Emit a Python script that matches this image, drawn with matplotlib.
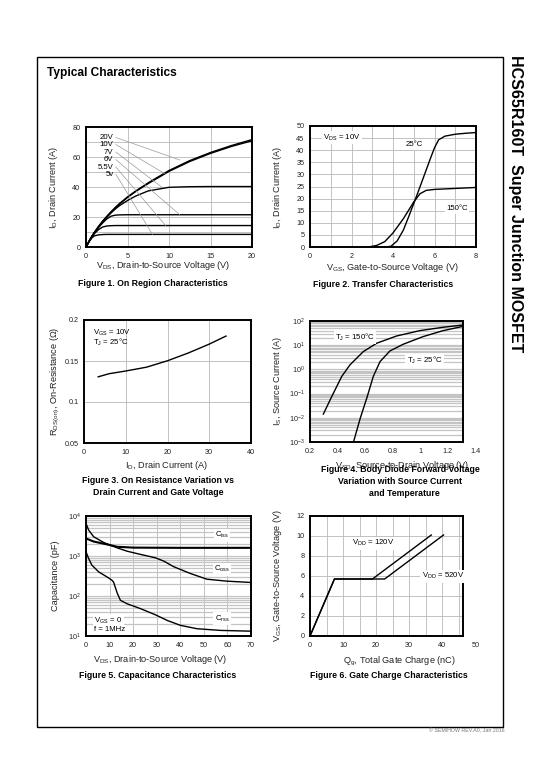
import matplotlib
matplotlib.use("Agg")
import matplotlib.pyplot as plt
from matplotlib.patches import Rectangle
from matplotlib.ticker import LogLocator, NullFormatter

plt.rcParams['font.family'] = ['Liberation Sans', 'DejaVu Sans']
plt.rcParams['mathtext.fontset'] = 'custom'
plt.rcParams['mathtext.rm'] = 'Liberation Sans'
plt.rcParams['mathtext.it'] = 'Liberation Sans'
plt.rcParams['mathtext.default'] = 'regular'

# ---------------- data ----------------
# Figure 1: On region characteristics
vds1 = [0, 0.25, 0.5, 0.75, 1, 1.5, 2, 2.5, 3, 3.5, 4, 5, 6, 7.5, 10, 12.5, 15, 17.5, 20]
id_20v = [0, 2.6, 5.2, 7.5, 9.6, 13.6, 17.2, 20.4, 23.4, 26.2, 28.8, 33.4, 37.4, 42.8, 51.0, 57.6, 63.0, 67.6, 71.6]
id_10v = [0, 2.6, 5.2, 7.5, 9.6, 13.5, 17.0, 20.2, 23.1, 25.9, 28.4, 33.0, 37.0, 42.3, 50.4, 57.0, 62.4, 67.0, 70.8]
id_7v = [0, 2.6, 5.2, 7.5, 9.6, 13.4, 16.8, 19.8, 22.6, 25.2, 27.4, 31.0, 34.0, 37.4, 39.8, 40.2, 40.3, 40.3, 40.3]
id_6v = [0, 2.6, 5.1, 7.3, 9.3, 12.9, 16.0, 18.7, 20.5, 21.2, 21.4, 21.5, 21.5, 21.5, 21.5, 21.5, 21.5, 21.5, 21.5]
id_55v = [0, 2.5, 4.9, 7.0, 8.8, 11.6, 13.3, 14.0, 14.2, 14.3, 14.3, 14.3, 14.3, 14.3, 14.3, 14.3, 14.3, 14.3, 14.3]
id_5v = [0, 2.4, 4.5, 6.3, 7.4, 8.1, 8.3, 8.4, 8.4, 8.4, 8.4, 8.4, 8.4, 8.4, 8.4, 8.4, 8.4, 8.4, 8.4]
fig1_labels = ["20V", "10V", "7V", "6V", "5.5V", "5v"]
fig1_label_y = [73, 68.3, 63.3, 58.3, 53.3, 48.5]
fig1_leader_end_x = [11.3, 9.6, 9.1, 11.3, 9.6, 8.0]
fig1_leader_end_y = [58.0, 48.5, 40.0, 21.5, 14.3, 8.4]

# Figure 2: Transfer characteristics
vgs_25 = [3.6, 3.9, 4.2, 4.5, 4.8, 5.0, 5.2, 5.5, 5.8, 6.0, 6.2, 6.5, 7.0, 7.5, 8.0]
id_25 = [0, 0.3, 2.5, 7.0, 13.5, 18.0, 22.5, 29.5, 36.5, 41.0, 44.3, 45.8, 46.6, 47.0, 47.3]
vgs_150 = [2.8, 3.2, 3.6, 4.0, 4.5, 5.0, 5.3, 5.6, 6.0, 7.0, 8.0]
id_150 = [0, 0.6, 2.2, 5.8, 11.7, 18.6, 22.0, 23.4, 23.8, 24.2, 24.6]

# Figure 3: On resistance vs drain current
id3 = [3.4, 6, 10, 15, 20, 25, 30, 34]
rds_on = [0.1307, 0.1345, 0.1378, 0.1425, 0.1503, 0.1598, 0.1706, 0.1804]

# Figure 4: Body diode forward voltage
vsd_150 = [0.297, 0.357, 0.43, 0.49, 0.586, 0.683, 0.828, 0.997, 1.166, 1.304]
is_150 = [0.0143, 0.074, 0.51, 1.54, 5.4, 12, 24, 40, 55, 68]
vsd_25 = [0.517, 0.565, 0.614, 0.659, 0.708, 0.78, 0.877, 1.02, 1.166, 1.304]
is_25 = [0.00107, 0.0098, 0.071, 0.51, 2.1, 5.8, 11, 22.6, 40, 59]

# Figure 5: Capacitance characteristics
ciss_v = [0, 3.25, 8.9, 13.2, 20, 30, 40, 50, 60, 70]
ciss = [2750, 2300, 1950, 1700, 1620, 1610, 1600, 1600, 1600, 1600]
coss_v = [0, 1.1, 3.25, 7.5, 13.2, 17.4, 23, 29.4, 33, 37.2, 44.3, 51.3, 59.8, 70]
coss = [6550, 4470, 3030, 2180, 1600, 1320, 1100, 904, 745, 540, 365, 263, 235, 218]
crss_v = [0, 1.1, 2.5, 5.4, 8.9, 11, 11.7, 13.2, 14.6, 17.4, 23, 29.4, 34.4, 40, 47.1, 57, 70]
crss = [1275, 870, 590, 400, 300, 248, 222, 120, 78, 64, 48.6, 34, 24.6, 18.5, 15.2, 13.8, 13.2]

# Figure 6: Gate charge
qg_120 = [0, 7.4, 18.9, 36.7]
vgs_120 = [0, 5.7, 5.7, 10.1]
qg_520 = [0, 7.4, 22.6, 40.4]
vgs_520 = [0, 5.7, 5.7, 10.1]

# ---------------- layout ----------------
W, H = 540, 780
fig = plt.figure(figsize=(W / 100, H / 100), dpi=100)
fig.patch.set_facecolor('white')

def fx(x):
    return x / W

def fy(y):
    return 1 - y / H

def add_ax(l, t, r, b):
    return fig.add_axes([fx(l), fy(b), (r - l) / W, (b - t) / H])

TICK_FS = 5.2
LAB_FS = 6.6
CAP_FS = 6.3
ANN_FS = 5.6
GRID_C = '#b8b8b8'
LINE_KW = dict(color='black', lw=1.0)
BOX = dict(facecolor='white', edgecolor='none', pad=1.0)

def style(ax):
    for s in ax.spines.values():
        s.set_linewidth(1.4)
        s.set_color('black')
    ax.tick_params(length=0, labelsize=TICK_FS, pad=4, colors='#222222')
    ax.set_axisbelow(True)

def hgrid(ax, vals):
    for v in vals:
        ax.axhline(v, color=GRID_C, lw=0.6, zorder=0)

def vgrid(ax, vals):
    for v in vals:
        ax.axvline(v, color=GRID_C, lw=0.6, zorder=0)

def txt(x, y, s, **kw):
    fig.text(fx(x), fy(y), s, ha='center', va='center', **kw)

# page frame
fig.add_artist(Rectangle((fx(37), fy(727)), (503 - 37) / W, (727 - 57) / H,
                         transform=fig.transFigure, fill=False, lw=1.0, ec='black'))
fig.text(fx(47), fy(73), "Typical Characteristics", fontsize=8.6, fontweight='bold',
         ha='left', va='center')
fig.text(fx(516), fy(55), "HCS65R160T  Super Junction MOSFET", fontsize=11.5,
         fontweight='bold', rotation=-90, ha='center', va='top')
fig.text(fx(505), fy(731), "\u00a9 SEMIHOW REV.A0, Jan 2016", fontsize=3.8,
         color='#777777', ha='right', va='center')

# ---- Figure 1 ----
ax1 = add_ax(86, 127, 252, 247)
style(ax1)
ax1.set_xlim(0, 20)
ax1.set_ylim(0, 80)
ax1.set_xticks([0, 5, 10, 15, 20])
ax1.set_yticks([0, 20, 40, 60, 80])
hgrid(ax1, [10, 20, 30, 40, 50, 60, 70])
vgrid(ax1, [5, 10, 15])
for curve in [id_20v, id_10v, id_7v, id_6v, id_55v, id_5v]:
    ax1.plot(vds1, curve, **LINE_KW)
for lab, ly, ex, ey in zip(fig1_labels, fig1_label_y, fig1_leader_end_x, fig1_leader_end_y):
    ax1.text(3.3, ly, lab, fontsize=ANN_FS, ha='right', va='center')
    ax1.plot([3.6, ex], [ly, ey], color='#9a9a9a', lw=0.5)
txt(53, 187, "I$_D$, Drain Current (A)", fontsize=LAB_FS, rotation=90, color='#222222')
txt(163, 266, "V$_{DS}$, Drain-to-Source Voltage (V)", fontsize=LAB_FS, color='#222222')
txt(153, 283, "Figure 1. On Region Characteristics", fontsize=CAP_FS, fontweight='bold')

# ---- Figure 2 ----
ax2 = add_ax(310, 126, 476, 247)
style(ax2)
ax2.set_xlim(0, 8)
ax2.set_ylim(0, 50)
ax2.set_xticks([0, 2, 4, 6, 8])
ax2.set_yticks(list(range(0, 55, 5)))
hgrid(ax2, list(range(5, 50, 5)))
vgrid(ax2, [1, 2, 3, 4, 5, 6, 7])
ax2.plot(vgs_25, id_25, **LINE_KW)
ax2.plot(vgs_150, id_150, **LINE_KW)
ax2.text(0.64, 45.2, "V$_{DS}$ = 10V", fontsize=ANN_FS, ha='left', va='center', bbox=BOX)
ax2.text(5.04, 42.3, "25°C", fontsize=ANN_FS, ha='center', va='center', bbox=BOX)
ax2.text(7.1, 15.8, "150°C", fontsize=ANN_FS, ha='center', va='center', bbox=BOX)
txt(278, 187, "I$_D$, Drain Current (A)", fontsize=LAB_FS, rotation=90, color='#222222')
txt(392, 267, "V$_{GS}$, Gate-to-Source Voltage (V)", fontsize=LAB_FS, color='#222222')
txt(383, 284, "Figure 2. Transfer Characteristics", fontsize=CAP_FS, fontweight='bold')

# ---- Figure 3 ----
ax3 = add_ax(84, 320, 251, 443)
style(ax3)
ax3.set_xlim(0, 40)
ax3.set_ylim(0.05, 0.2)
ax3.set_xticks([0, 10, 20, 30, 40])
ax3.set_yticks([0.05, 0.1, 0.15, 0.2])
ax3.set_yticklabels(["0.05", "0.1", "0.15", "0.2"])
hgrid(ax3, [0.1, 0.15])
vgrid(ax3, [10, 20, 30])
ax3.plot(id3, rds_on, **LINE_KW)
ax3.text(2.2, 0.1840, "V$_{GS}$ = 10V", fontsize=ANN_FS, ha='left', va='center')
ax3.text(2.2, 0.1725, "T$_J$ = 25°C", fontsize=ANN_FS, ha='left', va='center')
txt(55, 381, "R$_{DS(on)}$, On-Resistance (\u03a9)", fontsize=LAB_FS, rotation=90, color='#222222')
txt(167, 465, "I$_D$, Drain Current (A)", fontsize=LAB_FS, color='#222222')
txt(158, 480.5, "Figure 3. On Resistance Variation vs", fontsize=CAP_FS, fontweight='bold')
txt(158, 492.5, "Drain Current and Gate Voltage", fontsize=CAP_FS, fontweight='bold')

# ---- Figure 4 ----
ax4 = add_ax(310, 321, 463, 442)
style(ax4)
ax4.set_yscale('log')
ax4.set_xlim(0.2, 1.31)
ax4.set_ylim(1e-3, 1e2)
ax4.set_xticks([0.2, 0.4, 0.6, 0.8, 1.0, 1.2])
ax4.set_xticklabels(["0.2", "0.4", "0.6", "0.8", "1", "1.2"])
ax4.yaxis.set_major_locator(LogLocator(base=10, numticks=10))
ax4.yaxis.set_minor_locator(LogLocator(base=10, subs=range(2, 10), numticks=20))
ax4.yaxis.set_minor_formatter(NullFormatter())
ax4.tick_params(which='minor', length=0)
ax4.grid(True, which='both', axis='y', color='#c4c4c4', lw=0.9, zorder=0)
ax4.text(1.4, -0.05, "1.4", transform=ax4.get_xaxis_transform(), fontsize=TICK_FS,
         ha='center', va='top', clip_on=False, color='#222222')
ax4.plot(vsd_150, is_150, **LINE_KW)
ax4.plot(vsd_25, is_25, **LINE_KW)
ax4.text(0.526, 21, "T$_J$ = 150°C", fontsize=ANN_FS, ha='center', va='center', bbox=BOX)
ax4.text(1.03, 2.3, "T$_J$ = 25°C", fontsize=ANN_FS, ha='center', va='center', bbox=BOX)
txt(278, 381, "I$_S$, Source Current (A)", fontsize=LAB_FS, rotation=90, color='#222222')
txt(402, 465, "V$_{SD}$, Source-to-Drain Voltage (V)", fontsize=LAB_FS, color='#222222')
txt(400, 469, "Figure 4. Body Diode Forward Voltage", fontsize=CAP_FS, fontweight='bold')
txt(400, 481, "Variation with Source Current", fontsize=CAP_FS, fontweight='bold')
txt(404, 493, "and Temperature", fontsize=CAP_FS, fontweight='bold')

# ---- Figure 5 ----
ax5 = add_ax(86, 516, 251, 636)
style(ax5)
ax5.set_yscale('log')
ax5.set_xlim(0, 70)
ax5.set_ylim(10, 1e4)
ax5.set_xticks([0, 10, 20, 30, 40, 50, 60, 70])
ax5.yaxis.set_major_locator(LogLocator(base=10, numticks=10))
ax5.yaxis.set_minor_locator(LogLocator(base=10, subs=range(2, 10), numticks=20))
ax5.yaxis.set_minor_formatter(NullFormatter())
ax5.tick_params(which='minor', length=0)
ax5.grid(True, which='both', axis='y', color='#c4c4c4', lw=0.9, zorder=0)
vgrid(ax5, [10, 20, 30, 40, 50, 60])
ax5.plot(ciss_v, ciss, color='black', lw=1.5)
ax5.plot(coss_v, coss, **LINE_KW)
ax5.plot(crss_v, crss, **LINE_KW)
ax5.text(57.7, 3340, "C$_{iss}$", fontsize=ANN_FS, ha='center', va='center', bbox=BOX)
ax5.text(57.7, 470, "C$_{oss}$", fontsize=ANN_FS, ha='center', va='center', bbox=BOX)
ax5.text(57.7, 27, "C$_{rss}$", fontsize=ANN_FS, ha='center', va='center', bbox=BOX)
ax5.text(3.5, 24.5, "V$_{GS}$ = 0", fontsize=ANN_FS, ha='left', va='center', bbox=BOX)
ax5.text(3.5, 14.4, "f = 1MHz", fontsize=ANN_FS, ha='left', va='center', bbox=BOX)
txt(55, 576, "Capacitance (pF)", fontsize=LAB_FS, rotation=90, color='#222222')
txt(160, 660, "V$_{DS}$, Drain-to-Source Voltage (V)", fontsize=LAB_FS, color='#222222')
txt(158, 675, "Figure 5. Capacitance Characteristics", fontsize=CAP_FS, fontweight='bold')

# ---- Figure 6 ----
ax6 = add_ax(310, 516, 463, 636)
style(ax6)
ax6.set_xlim(0, 46.3)
ax6.set_ylim(0, 12)
ax6.set_xticks([0, 10, 20, 30, 40])
ax6.set_yticks([0, 2, 4, 6, 8, 10, 12])
hgrid(ax6, [2, 4, 6, 8, 10])
vgrid(ax6, [5, 10, 15, 20, 25, 30, 35, 40, 45])
ax6.text(50, -0.05, "50", transform=ax6.get_xaxis_transform(), fontsize=TICK_FS,
         ha='center', va='top', clip_on=False, color='#222222')
ax6.plot(qg_120, vgs_120, **LINE_KW)
ax6.plot(qg_520, vgs_520, **LINE_KW)
ax6.text(19.1, 9.27, "V$_{DD}$ = 120V", fontsize=ANN_FS, ha='center', va='center', bbox=BOX)
ax6.text(40.2, 6.0, "V$_{DD}$ = 520V", fontsize=ANN_FS, ha='center', va='center', bbox=BOX)
txt(277, 576, "V$_{GS}$, Gate-to-Source Voltage (V)", fontsize=LAB_FS, rotation=90, color='#222222')
txt(399, 661, "Q$_g$, Total Gate Charge (nC)", fontsize=LAB_FS, color='#222222')
txt(389, 675.5, "Figure 6. Gate Charge Characteristics", fontsize=CAP_FS, fontweight='bold')

fig.savefig("out.png", dpi=100, facecolor='white')
